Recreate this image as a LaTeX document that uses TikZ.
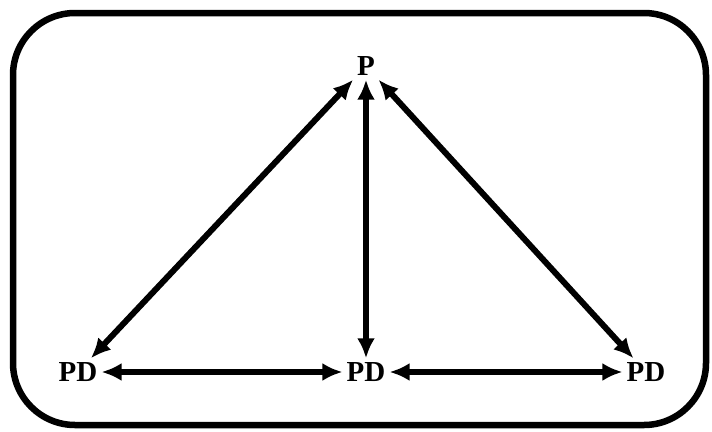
\documentclass[tikz,border=0pt]{standalone}
\usepackage{fontspec}
\setmainfont{Liberation Serif}
\usetikzlibrary{arrows.meta}

\begin{document}
\begin{tikzpicture}[x=1pt,y=-1pt]
\tikzset{lbl/.style={font=\bfseries\fontsize{29}{31}\selectfont,inner sep=4pt},
  twoway/.style={{Latex[length=20pt,width=18pt]}-{Latex[length=20pt,width=18pt]},line width=6pt}};
\useasboundingbox (0,0) rectangle (712,431);
\draw[line width=6.5pt,rounded corners=62pt] (13,13) rectangle (706,425);
    \node[lbl] (P) at (366,66) {P};
    \node[lbl] (PDleft) at (78,372) {PD};
    \node[lbl] (PDmid) at (366,372) {PD};
    \node[lbl] (PDright) at (646,372) {PD};
    \draw[twoway] (P) -- (PDleft);
    \draw[twoway] (P) -- (PDmid);
    \draw[twoway] (P) -- (PDright);
    \draw[twoway] (PDleft) -- (PDmid);
    \draw[twoway] (PDmid) -- (PDright);
\end{tikzpicture}
\end{document}
